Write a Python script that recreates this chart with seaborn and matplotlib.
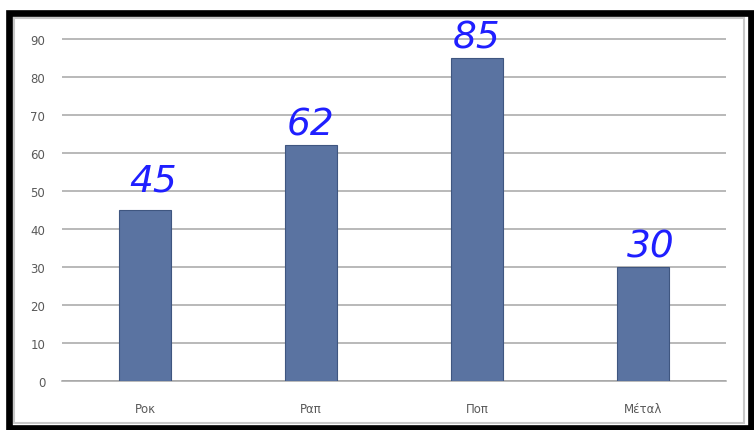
import matplotlib
matplotlib.use("Agg")
import matplotlib.pyplot as plt
import seaborn as sns
import pandas as pd
from matplotlib.patches import Rectangle

# chart data
genres = ["Ροκ", "Ραπ", "Ποπ", "Μέταλ"]
listeners = [45, 62, 85, 30]
y_ticks = [0, 10, 20, 30, 40, 50, 60, 70, 80, 90]

df = pd.DataFrame({"genre": genres, "value": listeners})

sns.set_style("white")
plt.rcParams["font.family"] = ["DejaVu Sans"]

fig = plt.figure(figsize=(7.54, 4.31), dpi=100)
ax = fig.add_axes([0.0822, 0.1137, 0.8806, 0.8023])

sns.barplot(data=df, x="genre", y="value", color="#5a73a1", width=0.31,
            saturation=1, edgecolor="#3f5680", linewidth=0.8, ax=ax, zorder=3)

ax.set_xlim(-0.5, 3.5)
ax.set_ylim(0, 91)
ax.set_yticks(y_ticks)
ax.yaxis.grid(True, color="#a6a6a6", linewidth=1.1, zorder=0)
ax.set_axisbelow(True)
for s in ["top", "right", "left"]:
    ax.spines[s].set_visible(False)
ax.spines["bottom"].set_color("#a6a6a6")
ax.spines["bottom"].set_linewidth(1.1)
ax.tick_params(axis="y", length=0, pad=12, labelsize=8.5, labelcolor="#595959")
ax.tick_params(axis="x", length=0, pad=15, labelsize=8.5, labelcolor="#595959")
ax.set_xlabel("")
ax.set_ylabel("")

# hand-written value labels
offsets = [(6, 8), (0, 2), (0, 2), (6, 2)]
for i, v in enumerate(listeners):
    ax.annotate(str(v), (i, v), xytext=offsets[i], textcoords="offset points",
                ha="center", va="bottom", fontsize=27, color="#1f1fff",
                fontstyle="italic", fontweight="light", clip_on=False,
                family=["DejaVu Sans"])

# thin inner chart border and thick outer black frame
fig.patches.append(Rectangle((14 / 754, 7 / 431), 730 / 754, 405 / 431,
                             transform=fig.transFigure, fill=False,
                             edgecolor="#c8c8c8", linewidth=1.5))
fig.patches.append(Rectangle((9 / 754, 2 / 431), 742 / 754, 415.5 / 431,
                             transform=fig.transFigure, fill=False,
                             edgecolor="black", linewidth=4.8))

fig.savefig("out.png", dpi=100)
